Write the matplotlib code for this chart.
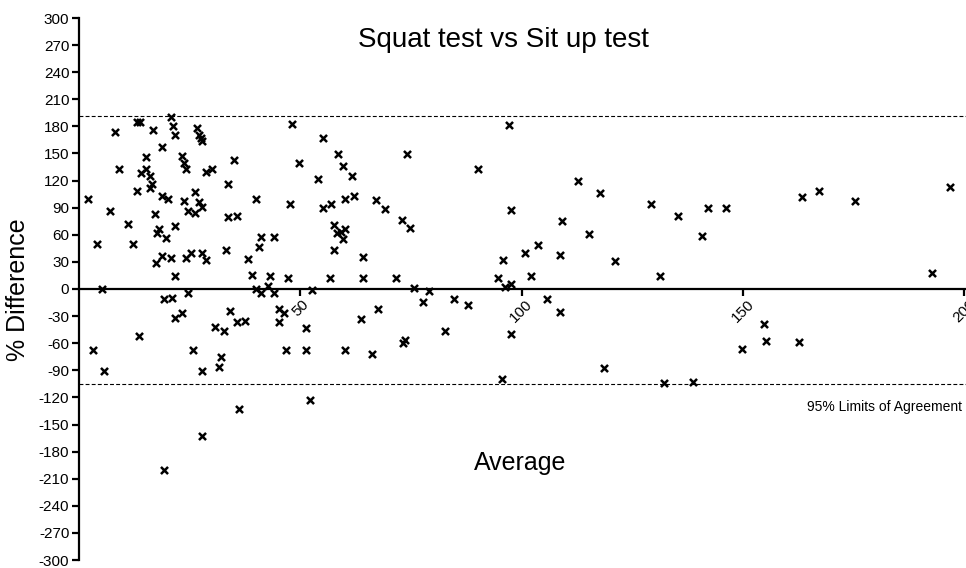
import matplotlib
matplotlib.use("Agg")
import matplotlib.pyplot as plt
from matplotlib import font_manager

avg = [2.1, 4.1, 5.1, 7.1, 8.1, 9.1, 11.1, 12.1, 13.2, 13.7, 13.2, 14.1, 15.1, 15.1, 16.1, 16.1, 16.6, 16.7, 17.2, 17.7,
       18.1, 17.5, 18.7, 18.7, 18.7, 19.7, 20.2, 20.7, 20.7, 21.3, 21.7, 21.7, 21.7, 23.2, 23.7, 24.1, 23.7, 24.2, 24.7, 25.2,
       26.2, 26.2, 26.6, 27.1, 27.5, 27.8, 27.1, 27.7, 27.7, 28.7, 28.7, 30.1, 33.2, 33.7, 33.7, 35.7, 35.1, 38.2,
       48.1, 55.2, 58.6, 74.2, 49.7, 59.7, 61.7, 54.1, 40.1, 47.6, 55.1, 57.0, 60.1, 62.2, 67.1, 69.1, 73.1, 74.7,
       57.7, 58.2, 59.1, 60.2, 59.7, 57.7, 41.2, 44.1, 40.7, 64.2, 39.1, 43.2, 47.2, 56.7, 64.2, 71.6,
       19.2, 21.1, 24.6, 21.6, 23.2, 34.2, 30.7, 32.7, 35.7, 37.6, 13.6, 3.1, 25.7, 5.6, 27.7, 32.2, 31.7, 36.2, 27.7, 19.2,
       40.0, 41.2, 42.6, 44.1, 52.7, 75.6, 45.2, 46.3, 45.2, 51.2, 46.7, 51.2, 60.2, 66.3, 63.7, 67.6, 73.3, 73.6, 52.1,
       97.1, 90.2, 112.7, 117.7, 97.7, 109.2, 115.2, 103.7, 100.7, 108.7, 95.8, 121.2, 94.7, 102.2, 96.2, 97.7, 79.1,
       77.7, 84.7, 87.8, 82.7, 105.7, 108.8, 97.7, 95.7, 118.7,
       129.2, 135.3, 142.2, 146.3, 140.7, 131.2, 163.3, 167.3, 175.3, 196.8, 192.8, 154.7, 155.2, 149.8, 162.8, 132.2, 138.7]

pct_diff = [100, 50, 0, 86, 174, 133, 72, 50, 185, 185, 108, 128, 146, 133, 125, 112, 116, 176, 83, 62,
            66, 29, 157, 103, 37, 56, 100, 190, 34, 180, 171, 70, 14, 147, 140, 133, 97, 34, 86, 40,
            107, 84, 178, 171, 167, 164, 96, 91, 40, 32, 129, 133, 43, 116, 80, 81, 143, 33,
            183, 167, 149, 149, 139, 136, 125, 122, 100, 94, 90, 94, 100, 103, 98, 89, 76, 68,
            71, 62, 63, 66, 55, 43, 58, 58, 47, 35, 15, 14, 12.5, 12.5, 12.5, 12.5,
            -11, -10, -4, -32, -27, -24, -42, -46, -36, -35, -52, -67, -67, -91, -91, -75, -86, -133, -163, -200,
            0, -4, 3, -4, -1.5, 1.5, -22, -27, -36, -43, -67, -67, -67, -72, -33, -22, -60, -56, -123,
            181, 133, 120, 106, 87, 75, 61, 49, 40, 37.5, 32, 31, 12, 14, 2.5, 5, -2.6,
            -14, -11, -18, -47, -11, -25, -50, -100, -87,
            94.5, 81, 90, 90, 59, 14, 101.5, 109, 97, 113, 18, -39, -58, -66, -58.5, -104.4, -103]

upper_loa = 191.6
lower_loa = -104.8
x_ticks = [50, 100, 150, 200]
y_ticks = list(range(-300, 301, 30))

names = {f.name for f in font_manager.fontManager.ttflist}
main_font = ["Liberation Sans", "DejaVu Sans"]
tick_font = (["Liberation Sans Narrow"] if "Liberation Sans Narrow" in names else []) + main_font

plt.rcParams["font.family"] = main_font

fig = plt.figure(figsize=(9.66, 5.68), dpi=100)
ax = fig.add_axes([79/966, 8/568, 1 - 79/966, 542/568])

ax.scatter(avg, pct_diff, marker="x", s=26, c="black", linewidths=1.8, zorder=3)
ax.axhline(upper_loa, color="black", lw=0.8, ls=(0, (3.5, 2)), zorder=2)
ax.axhline(lower_loa, color="black", lw=0.8, ls=(0, (3.5, 2)), zorder=2)

ax.set_xlim(0, 200.45)
ax.set_ylim(-300, 300)

ax.spines["top"].set_visible(False)
ax.spines["right"].set_visible(False)
ax.spines["bottom"].set_position(("data", 0))
ax.spines["left"].set_linewidth(1.6)
ax.spines["bottom"].set_linewidth(1.6)

ax.set_yticks(y_ticks)
ax.set_yticklabels([str(v) for v in y_ticks], fontfamily=tick_font, fontsize=11)
ax.set_xticks(x_ticks)
ax.set_xticklabels([str(v) for v in x_ticks], fontfamily=tick_font, fontsize=11, rotation=45, ha="center")
ax.tick_params(axis="y", direction="out", length=5, width=1.6, pad=2)
ax.tick_params(axis="x", direction="out", length=5, width=1.6, pad=1)

ax.text(96, 276, "Squat test vs Sit up test", ha="center", va="center", fontsize=20)
ax.text(99.8, -193, "Average", ha="center", va="center", fontsize=18)
ax.text(199.6, -131, "95% Limits of Agreement", ha="right", va="center", fontsize=10)
fig.text(18/966, 1 - 290/568, "% Difference", rotation=90, ha="center", va="center", fontsize=18)

fig.savefig("out.png", dpi=100)
